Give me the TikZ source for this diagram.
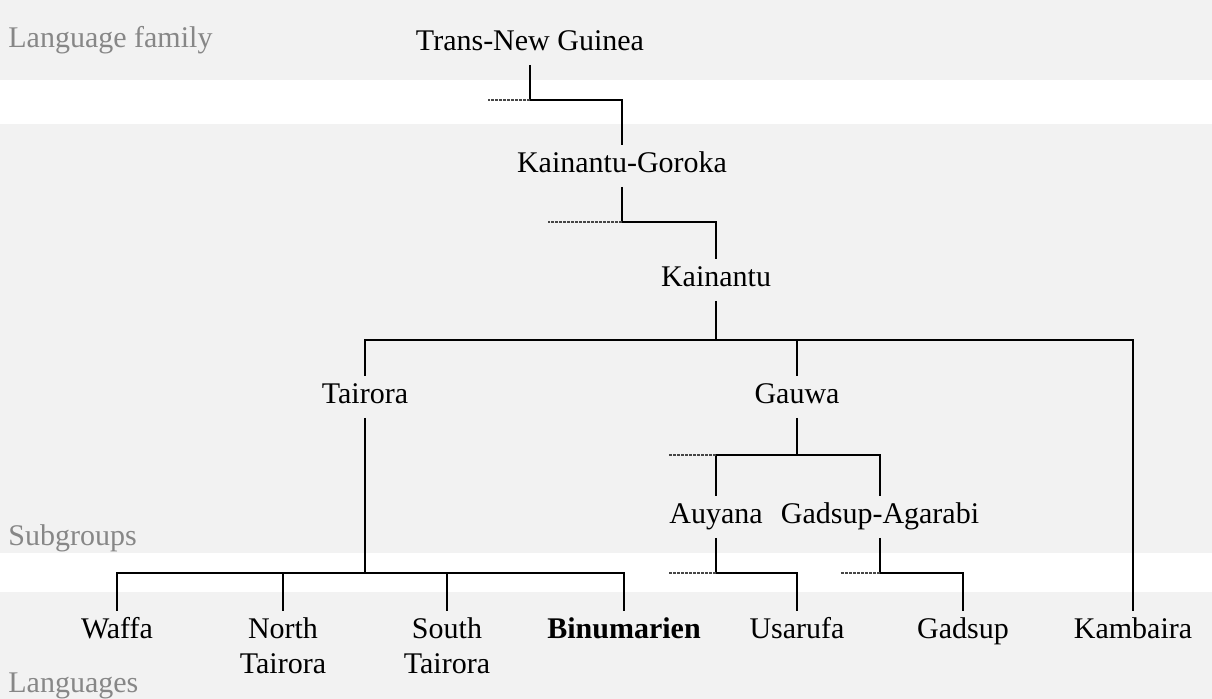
\documentclass[tikz,border=0pt]{standalone}
\usepackage{fontspec}
\setmainfont{Liberation Serif}
\definecolor{bandgray}{RGB}{242,242,242}
\definecolor{labelgray}{RGB}{135,135,135}
\definecolor{stubgray}{RGB}{70,70,70}

\begin{document}
\begin{tikzpicture}[x=0.5pt,y=-0.5pt,
    grp/.style={font=\fontsize{15}{17.5}\selectfont, inner xsep=2pt, inner ysep=3.2pt,
                text height=10.5pt, text depth=3.7pt},
    lang/.style={font=\fontsize{15}{17.5}\selectfont, anchor=north, align=center, inner sep=3pt},
    tier/.style={font=\fontsize{15}{17.5}\selectfont, text=labelgray, anchor=west, inner sep=0pt},
    branch/.style={line width=1pt},
    stub/.style={line width=0.6pt, stubgray, dash pattern=on 1.5pt off 0.5pt}]
      \useasboundingbox (0,0) rectangle (1212,699);
      % background bands
      \fill[bandgray] (0,0) rectangle (1212,80);
      \fill[bandgray] (0,124) rectangle (1212,553);
      \fill[bandgray] (0,592) rectangle (1212,699);
      \node[tier] (family) at (8,40) {Language family};
      \node[tier] (subgroups) at (8,538) {Subgroups};
      \node[tier] (languages) at (8,686) {Languages};

      % subgroups
      \node[grp] (tng) at (530,44) {Trans-New Guinea};
      \node[grp] (kg) at (622,166) {Kainantu-Goroka};
      \node[grp] (kainantu) at (716,280) {Kainantu};
      \node[grp] (tairora) at (365,397) {Tairora};
      \node[grp] (gauwa) at (797,397) {Gauwa};
      \node[grp] (auyana) at (716,517) {Auyana};
      \node[grp] (gadag) at (880,517) {Gadsup-Agarabi};

      % languages
      \node[lang] (waffa) at (117,611) {Waffa};
      \node[lang] (ntairora) at (283,611) {North\\Tairora};
      \node[lang] (stairora) at (447,611) {South\\Tairora};
      \node[lang] (binumarien) at (624,611) {\textbf{Binumarien}};
      \node[lang] (usarufa) at (797,611) {Usarufa};
      \node[lang] (gadsup) at (963,611) {Gadsup};
      \node[lang] (kambaira) at (1133,611) {Kambaira};

      % bar heights
      \coordinate (tngbar) at (530,100);
      \coordinate (kgbar) at (622,222);
      \coordinate (kbar) at (0,340);
      \coordinate (gbar) at (0,455);
      \coordinate (lbar) at (0,573);
      % loose ends of the dashed stubs
      \coordinate (tngstub) at (488,100);
      \coordinate (kgstub) at (548,222);
      \coordinate (gstub) at (668,455);
      \coordinate (astub) at (668,573);
      \coordinate (gastub) at (840,573);

      \draw[branch] (tng.south) -- (tngbar) -| (kg.north);
      \draw[stub] (tngbar) -- (tngstub);
      \draw[branch] (kg.south) -- (kgbar) -| (kainantu.north);
      \draw[stub] (kgbar) -- (kgstub);

      \draw[branch] (kainantu.south) -- (kainantu |- kbar);
      \draw[branch] (tairora.north) |- (kambaira |- kbar) -- (kambaira.north);
      \draw[branch] (gauwa.north) -- (gauwa |- kbar);

      \draw[branch] (tairora.south) -- (tairora |- lbar);
      \draw[branch] (waffa.north) |- (binumarien |- lbar) -- (binumarien.north);
      \draw[branch] (ntairora.north) -- (ntairora |- lbar);
      \draw[branch] (stairora.north) -- (stairora |- lbar);

      \draw[branch] (gauwa.south) -- (gauwa |- gbar);
      \draw[branch] (auyana.north) |- (gadag |- gbar) -- (gadag.north);
      \draw[stub] (auyana |- gbar) -- (gstub);

      \draw[branch] (auyana.south) |- (usarufa |- lbar) -- (usarufa.north);
      \draw[stub] (auyana |- lbar) -- (astub);
      \draw[branch] (gadag.south) |- (gadsup |- lbar) -- (gadsup.north);
      \draw[stub] (gadag |- lbar) -- (gastub);
  \end{tikzpicture}
\end{document}
